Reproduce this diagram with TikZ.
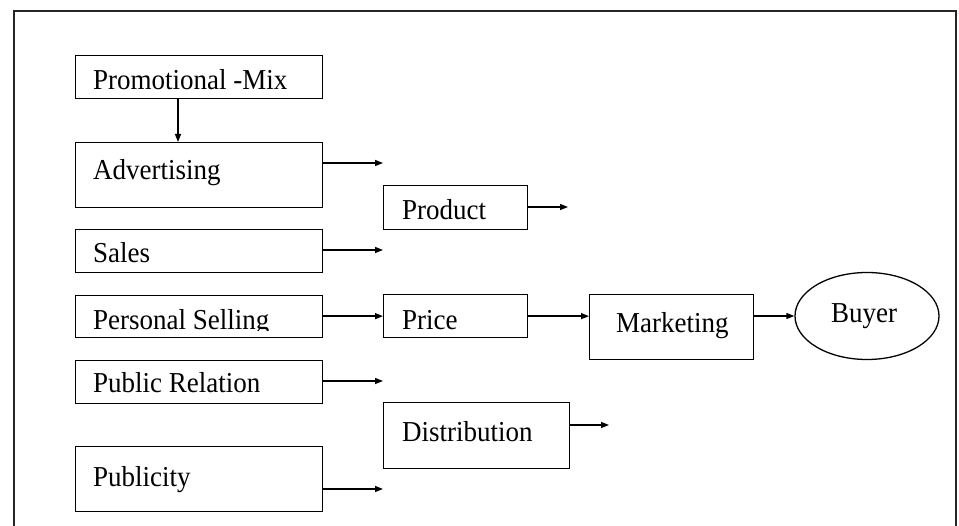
\documentclass[tikz,border=0pt]{standalone}
\usepackage{fontspec}
\setmainfont{Liberation Serif}
\usetikzlibrary{arrows.meta,shapes.geometric}
\newcommand{\tall}[1]{\scalebox{1}[1.07]{#1}}
\begin{document}
\begin{tikzpicture}[x=1pt,y=-1pt,
  box/.style={draw=black,line width=1.3pt,rectangle,inner sep=0pt,anchor=north west},
  lbl/.style={inner sep=0pt,anchor=base west,font=\fontsize{27}{30}\selectfont},
  arr/.style={draw=black,line width=1.4pt,-{Triangle[length=8pt,width=6pt]}},
  frame/.style={draw=black!85,line width=1.6pt}]
\useasboundingbox (0,0) rectangle (959,526);
\draw[frame] (14,530) -- (14,11) -- (956,11) -- (956,530);
% left column boxes
\node[box,minimum width=247pt,minimum height=43pt] (prom) at (75,55) {};
\node[box,minimum width=247pt,minimum height=65pt] (adv) at (75,142) {};
\node[box,minimum width=247pt,minimum height=43pt] (sales) at (75,229) {};
\node[box,minimum width=247pt,minimum height=42pt] (pers) at (75,295) {};
\node[box,minimum width=247pt,minimum height=43pt] (pubrel) at (75,360) {};
\node[box,minimum width=247pt,minimum height=65pt] (publ) at (75,446) {};
% middle boxes
\node[box,minimum width=144pt,minimum height=44pt] (prod) at (383,185) {};
\node[box,minimum width=144pt,minimum height=43pt] (price) at (383,294) {};
\node[box,minimum width=186pt,minimum height=66pt] (dist) at (383,402) {};
\node[box,minimum width=164pt,minimum height=65pt] (mkt) at (589,294) {};
\node[draw=black,line width=1.3pt,ellipse,minimum width=144pt,minimum height=87pt,inner sep=0pt] (buyer) at (867,316) {};
% labels
\node[lbl] (promT) at (93,89.5) {\tall{Promotional -Mix}};
\node[lbl] (advT) at (93,180) {\tall{Advertising}};
\node[lbl] (salesT) at (93,263) {\tall{Sales}};
\begin{scope}
\clip (75,295) rectangle (322,331);
\node[lbl] (persT) at (93,330) {\tall{Personal Selling}};
\end{scope}
\node[lbl] (pubrelT) at (93,393) {\tall{Public Relation}};
\node[lbl] (publT) at (93,486) {\tall{Publicity}};
\node[lbl] (prodT) at (402,220) {\tall{Product}};
\node[lbl] (priceT) at (402,330) {\tall{Price}};
\node[lbl] (distT) at (402,442) {\tall{Distribution}};
\node[lbl] (mktT) at (616,333) {\tall{Marketing}};
\node[lbl] (buyerT) at (831,323) {\tall{Buyer}};
% free arrow ends
\coordinate (advE) at (383,163);
\coordinate (salesE) at (383,250);
\coordinate (pubrelE) at (383,381);
\coordinate (publE) at (383,489);
\coordinate (prodE) at (568,207);
\coordinate (distE) at (609,425);
\coordinate (promX) at (178,0);
% connectors
\draw[arr] (prom.south -| promX) -- (adv.north -| promX);
\draw[arr] (adv.east |- advE) -- (advE);
\draw[arr] (sales.east |- salesE) -- (salesE);
\draw[arr] (pers.east |- price.west) -- (price.west);
\draw[arr] (pubrel.east |- pubrelE) -- (pubrelE);
\draw[arr] (publ.east |- publE) -- (publE);
\draw[arr] (prod.east |- prodE) -- (prodE);
\draw[arr] (dist.east |- distE) -- (distE);
\draw[arr] (price.east) -- (mkt.west |- price.east);
\draw[arr] (mkt.east |- buyer.west) -- (buyer.west);
\end{tikzpicture}
\end{document}
